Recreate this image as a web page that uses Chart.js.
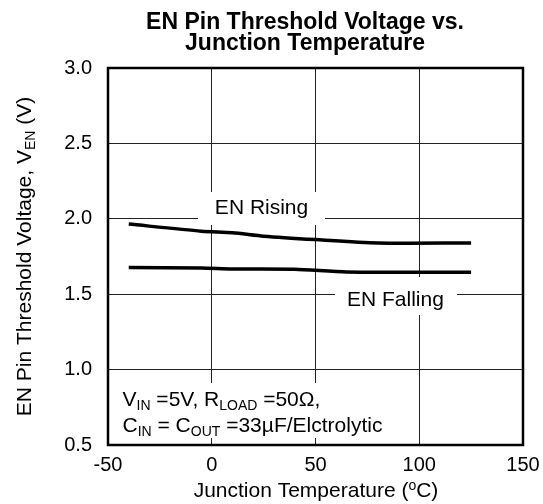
<!DOCTYPE html>
<html>
<head>
<meta charset="utf-8">
<script src="https://cdn.jsdelivr.net/npm/chart.js@4.4.0/dist/chart.umd.min.js"></script>
<style>
  html, body { margin: 0; padding: 0; background: #fff; }
  #wrap { width: 543px; height: 504px; }
</style>
</head>
<body>
<div id="wrap"><canvas id="enChart" width="543" height="504"></canvas></div>
<script>
// EN pin threshold vs junction temperature
const risingTemp = [-40, -5, 10, 25, 50, 80, 125];
const risingVolt = [1.965, 1.918, 1.908, 1.885, 1.862, 1.84, 1.84];
const fallingTemp = [-40, -5, 10, 40, 65, 125];
const fallingVolt = [1.677, 1.674, 1.667, 1.665, 1.648, 1.645];

const xTicks = [-50, 0, 50, 100, 150];
const yTicks = [0.5, 1.0, 1.5, 2.0, 2.5, 3.0];

const FONT = 'Liberation Sans, Arial, sans-serif';

function toPoints(xs, ys) {
    return xs.map((x, i) => ({ x: x, y: ys[i] }));
}

// draw a run of text pieces, some of them subscript/superscript
function drawRich(ctx, parts, x, y, size, subSize) {
    let cx = x;
    parts.forEach(p => {
        const txt = p[0], kind = p[1];
        if (kind === 'sub') {
            ctx.font = subSize + 'px ' + FONT;
            ctx.fillText(txt, cx, y + 4);
        } else if (kind === 'sup') {
            ctx.font = subSize + 'px ' + FONT;
            ctx.fillText(txt, cx, y - 7);
        } else {
            ctx.font = size + 'px ' + FONT;
            ctx.fillText(txt, cx, y);
        }
        cx += ctx.measureText(txt).width;
    });
    return cx - x;
}

function richWidth(ctx, parts, size, subSize) {
    let w = 0;
    parts.forEach(p => {
        ctx.font = (p[1] ? subSize : size) + 'px ' + FONT;
        w += ctx.measureText(p[0]).width;
    });
    return w;
}

const decorPlugin = {
    id: 'decor',
    beforeDatasetsDraw(chart) {
        const ctx = chart.ctx;
        const xs = chart.scales.x, ys = chart.scales.y;
        ctx.save();
        ctx.fillStyle = '#fff';
        // white boxes behind the in-plot labels
        ctx.fillRect(198, 192, 127, 33);
        ctx.fillRect(335, 277, 122, 38);
        ctx.fillRect(115, 383, 277, 55);

        ctx.fillStyle = '#000';
        ctx.textBaseline = 'alphabetic';
        ctx.textAlign = 'center';
        ctx.font = '21px ' + FONT;
        ctx.fillText('EN Rising', xs.getPixelForValue(24), ys.getPixelForValue(2.03));
        ctx.fillText('EN Falling', xs.getPixelForValue(88.5), ys.getPixelForValue(1.422));

        ctx.textAlign = 'left';
        const ax = xs.getPixelForValue(-43);
        drawRich(ctx, [['V'], ['IN', 'sub'], [' =5V, R'], ['LOAD', 'sub'], [' =50\u03A9,']],
            ax, ys.getPixelForValue(0.759), 21, 14);
        drawRich(ctx, [['C'], ['IN', 'sub'], [' = C'], ['OUT', 'sub'], [' =33\u00B5F/Elctrolytic']],
            ax, ys.getPixelForValue(0.584), 21, 14);
        ctx.restore();
    },
    afterDraw(chart) {
        const ctx = chart.ctx;
        const a = chart.chartArea;
        ctx.save();
        // frame
        ctx.strokeStyle = '#000';
        ctx.lineWidth = 2.5;
        ctx.strokeRect(a.left, a.top, a.right - a.left, a.bottom - a.top);

        ctx.fillStyle = '#000';
        ctx.textBaseline = 'alphabetic';
        ctx.textAlign = 'center';
        ctx.font = 'bold 23px ' + FONT;
        ctx.fillText('EN Pin Threshold Voltage vs.', 305, 29);
        ctx.fillText('Junction Temperature', 305, 50);

        // x axis title
        ctx.textAlign = 'left';
        const xParts = [['Junction Temperature ('], ['o', 'sup'], ['C)']];
        const xw = richWidth(ctx, xParts, 21, 14);
        drawRich(ctx, xParts, 316 - xw / 2, 497, 21, 14);

        // y axis title, rotated
        const yParts = [['EN Pin Threshold Voltage, V'], ['EN', 'sub'], [' (V)']];
        const yw = richWidth(ctx, yParts, 21, 14);
        ctx.translate(31, (a.top + a.bottom) / 2);
        ctx.rotate(-Math.PI / 2);
        drawRich(ctx, yParts, -yw / 2, 0, 21, 14);
        ctx.restore();
    }
};

const ctx = document.getElementById('enChart');
new Chart(ctx, {
    type: 'line',
    data: {
        datasets: [
            {
                label: 'EN Rising',
                data: toPoints(risingTemp, risingVolt),
                borderColor: '#000',
                borderWidth: 3.5,
                pointRadius: 0,
                tension: 0.25,
                fill: false
            },
            {
                label: 'EN Falling',
                data: toPoints(fallingTemp, fallingVolt),
                borderColor: '#000',
                borderWidth: 3.5,
                pointRadius: 0,
                tension: 0.25,
                fill: false
            }
        ]
    },
    options: {
        responsive: false,
        animation: false,
        devicePixelRatio: 1,
        layout: { padding: { top: 68, right: 20, bottom: 0, left: 0 } },
        plugins: {
            legend: { display: false },
            title: { display: false },
            tooltip: { enabled: false }
        },
        scales: {
            x: {
                type: 'linear',
                min: -50,
                max: 150,
                afterBuildTicks: s => { s.ticks = xTicks.map(v => ({ value: v })); },
                afterFit: s => { s.height = 59; s.paddingLeft = 0; s.paddingRight = 0; },
                grid: { color: '#222', lineWidth: 1, drawTicks: false },
                border: { display: false },
                ticks: {
                    color: '#000',
                    padding: 8,
                    maxRotation: 0,
                    font: { size: 20, family: FONT },
                    callback: v => String(v)
                }
            },
            y: {
                type: 'linear',
                min: 0.5,
                max: 3.0,
                afterBuildTicks: s => { s.ticks = yTicks.map(v => ({ value: v })); },
                afterFit: s => { s.width = 108; s.paddingTop = 0; s.paddingBottom = 0; },
                grid: { color: '#222', lineWidth: 1, drawTicks: false },
                border: { display: false },
                ticks: {
                    color: '#000',
                    padding: 16,
                    font: { size: 20, family: FONT },
                    callback: v => Number(v).toFixed(1)
                }
            }
        }
    },
    plugins: [decorPlugin]
});
</script>
</body>
</html>
